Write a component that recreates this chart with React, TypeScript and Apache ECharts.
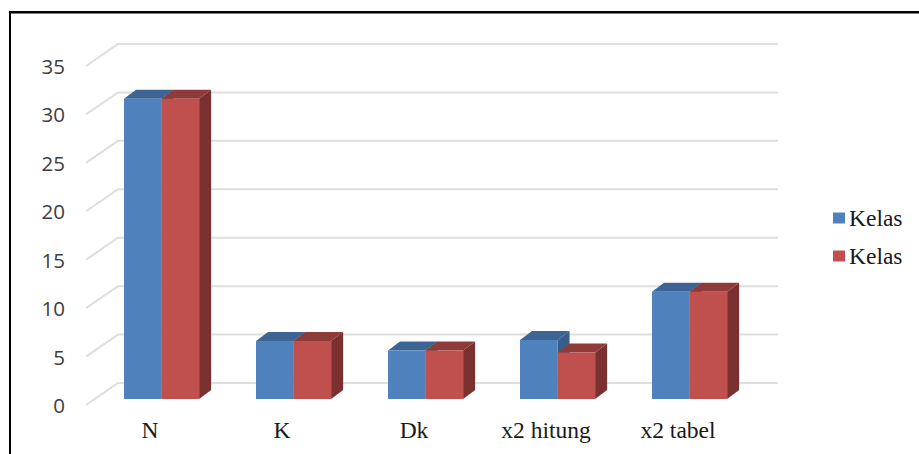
import React, { useEffect, useRef } from "react";
import * as echarts from "echarts";

const categories = ["N", "K", "Dk", "x2 hitung", "x2 tabel"];
const kelasA = [31, 6, 5, 6.1, 11.07];
const kelasB = [31, 6, 5, 4.8, 11.07];
const yTicks = [0, 5, 10, 15, 20, 25, 30, 35];

const WALL_DX = 32;
const WALL_DY = 22;
const BAR_DX = 12;
const BAR_DY = 9;
const FRONT_LIFT = 6;

// Draws one box per category: front face, top face and right-hand face.
const boxRenderer =
  (slot: number, front: string, top: string, side: string) => (_: any, api: any) => {
    const cat = api.value(0);
    const base = api.coord([cat, 0]);
    const head = api.coord([cat, api.value(1)]);
    const band = api.size([1, 0])[0];
    const w = band * 0.2845;
    const x0 = base[0] - band * 0.212 + slot * w;
    const x1 = x0 + w;
    const y0 = base[1] - FRONT_LIFT;
    const y1 = head[1] - FRONT_LIFT;
    return {
      type: "group",
      children: [
        {
          type: "polygon",
          shape: { points: [[x1, y0], [x1 + BAR_DX, y0 - BAR_DY], [x1 + BAR_DX, y1 - BAR_DY], [x1, y1]] },
          style: { fill: side },
        },
        {
          type: "polygon",
          shape: { points: [[x0, y1], [x0 + BAR_DX, y1 - BAR_DY], [x1 + BAR_DX, y1 - BAR_DY], [x1, y1]] },
          style: { fill: top },
        },
        { type: "rect", shape: { x: x0, y: y1, width: w, height: y0 - y1 }, style: { fill: front } },
      ],
    };
  };

// Floor-and-wall rule for one tick value: a slanted run on the side wall, then along the back.
const wallRenderer = (_: any, api: any) => {
  const p = api.coord([0, api.value(1)]);
  const band = api.size([1, 0])[0];
  const left = p[0] - band / 2;
  const right = left + band * categories.length + WALL_DX;
  return {
    type: "polyline",
    shape: { points: [[left, p[1]], [left + WALL_DX, p[1] - WALL_DY], [right, p[1] - WALL_DY]] },
    style: { fill: "none", stroke: "#dedede", lineWidth: 2 },
  };
};

export default function App() {
  const ref = useRef<HTMLDivElement>(null);
  useEffect(() => {
    const chart = echarts.init(ref.current!, null, { renderer: "svg" });
    const serif = "'Liberation Serif', serif";
    chart.setOption({
      animation: false,
      backgroundColor: "#ffffff",
      grid: { left: 86, top: 66, width: 660, height: 339 },
      xAxis: {
        type: "category",
        data: categories,
        axisLine: { show: false },
        axisTick: { show: false },
        axisLabel: { color: "#1a1a1a", fontFamily: serif, fontSize: 23.5, margin: 13, padding: [0, 4, 0, 0] },
      },
      yAxis: {
        type: "value",
        min: 0,
        max: 35,
        interval: 5,
        axisLine: { show: false },
        axisTick: { show: false },
        splitLine: { show: false },
        axisLabel: { color: "#404040", fontFamily: "'Open Sans', sans-serif", fontSize: 20.5, margin: 21 },
      },
      legend: {
        data: ["Kelas", "Kelas "],
        orient: "vertical",
        left: 833,
        top: 206,
        padding: 0,
        itemWidth: 12,
        itemHeight: 11,
        itemGap: 14,
        icon: "rect",
        formatter: () => "Kelas",
        textStyle: { color: "#1a1a1a", fontFamily: serif, fontSize: 23.5, padding: [0, 0, 0, -1] },
      },
      graphic: [
        { type: "rect", shape: { x: 9, y: 11, width: 910, height: 2.5 }, style: { fill: "#000" } },
        { type: "rect", shape: { x: 9, y: 11, width: 2, height: 443 }, style: { fill: "#000" } },
      ],
      series: [
        {
          type: "custom",
          name: "wall",
          silent: true,
          clip: false,
          z: 1,
          renderItem: wallRenderer,
          data: yTicks.map((t) => [0, t]),
        },
        {
          type: "custom",
          name: "Kelas",
          clip: false,
          z: 2,
          itemStyle: { color: "#4f81bd" },
          renderItem: boxRenderer(0, "#4f81bd", "#3c6494", "#385d8a"),
          data: kelasA.map((v, i) => [i, v]),
        },
        {
          type: "custom",
          name: "Kelas ",
          clip: false,
          z: 3,
          itemStyle: { color: "#c0504d" },
          renderItem: boxRenderer(1, "#c0504d", "#8f3b39", "#7a302e"),
          data: kelasB.map((v, i) => [i, v]),
        },
      ],
    });
    return () => chart.dispose();
  }, []);
  return <div ref={ref} style={{ position: "absolute", left: 0, top: 0, width: 919, height: 454 }} />;
}
